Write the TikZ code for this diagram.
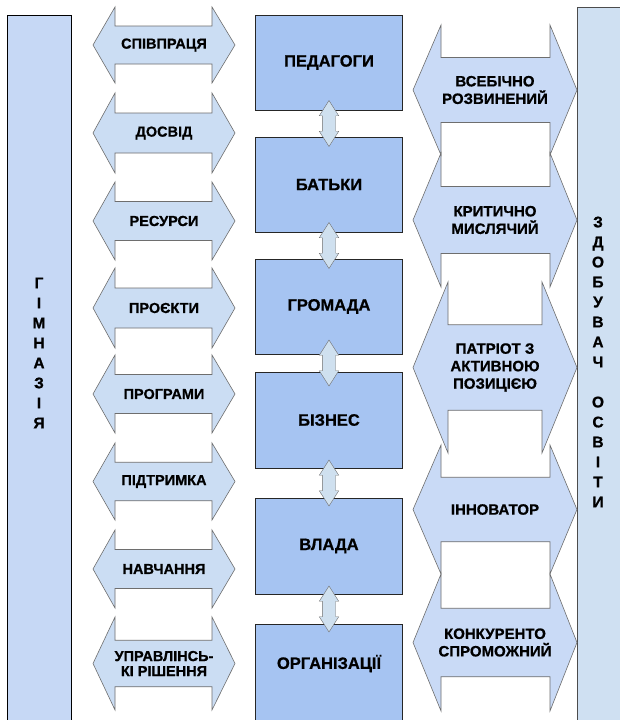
\documentclass[tikz,border=0pt]{standalone}
\usepackage{fontspec}
\setmainfont{Liberation Sans}[BoldFeatures={FakeBold=0.8}]
\usepackage{tikz}
\usetikzlibrary{shapes.arrows, calc}

\definecolor{gymfill}{HTML}{C6D8F5}
\definecolor{learnfill}{HTML}{CFE0F2}
\definecolor{sidefill}{HTML}{CBDDF3}
\definecolor{goalfill}{HTML}{C9DAF6}
\definecolor{partfill}{HTML}{A6C4F2}
\definecolor{linkfill}{HTML}{CFE0EF}
\definecolor{edgegray}{HTML}{6E6E6E}

% two-way arrow with a notch at top and bottom
\newcommand{\hexarrow}[7]{%
  \pgfmathsetmacro{\dd}{0.25*(#7-#6)}%
  \pgfmathsetmacro{\mm}{0.5*(#6+#7)}%
  \filldraw[#1] (#3,#6) -- (#3,#6+\dd) -- (#4,#6+\dd) -- (#4,#6) -- (#5,\mm)
    -- (#4,#7) -- (#4,#7-\dd) -- (#3,#7-\dd) -- (#3,#7) -- (#2,\mm) -- cycle;
}

\tikzset{
  sideshape/.style={draw=edgegray, fill=sidefill, line width=0.6pt, line join=miter},
  goalshape/.style={draw=edgegray, fill=goalfill, line width=0.6pt, line join=miter},
  sidetext/.style={font=\fontsize{14.5}{15}\selectfont\bfseries, align=center, inner sep=0pt},
  goaltext/.style={font=\fontsize{15}{17.5}\selectfont\bfseries, align=center, inner sep=0pt},
  partner/.style={draw=black!85, fill=partfill, minimum width=147pt, inner sep=0pt,
    font=\fontsize{16.5}{18}\selectfont\bfseries},
  linkarrow/.style={double arrow, draw=edgegray, fill=linkfill, rotate=90, minimum height=46pt,
    inner xsep=0pt, inner ysep=6.5pt, double arrow head extend=3pt, double arrow tip angle=65},
  sidetitle/.style={font=\fontsize{15.5}{20}\selectfont\bfseries, align=center, inner sep=0pt}
}

\begin{document}
\begin{tikzpicture}[x=1pt, y=-1pt]
\useasboundingbox (0,0) rectangle (620,720);
\clip (0,0) rectangle (620,720);
\fill[white] (0,0) rectangle (620,720);

\filldraw[draw=black, fill=gymfill, line width=0.6pt] (7,15) rectangle (71,740);
\node[sidetitle] (gymtitle) at (39,353) {Г\\І\\М\\Н\\А\\З\\І\\Я};

\filldraw[draw=black!70, fill=learnfill, line width=0.6pt] (577,7) rectangle (650,740);
\node[sidetitle] (learntitle) at (598,362) {З\\Д\\О\\Б\\У\\В\\А\\Ч\\[20pt]О\\С\\В\\І\\Т\\И};

\foreach \t/\b/\txt [count=\i] in {7/83/СПІВПРАЦЯ, 93/173/ДОСВІД, 182/260/РЕСУРСИ,
  268/348/ПРОЄКТИ, 355/433/ПРОГРАМИ, 443/520/ПІДТРИМКА, 530/608/НАВЧАННЯ,
  617/710/{УПРАВЛІНСЬ-\\КІ РІШЕННЯ}}
{
  \hexarrow{sideshape}{93}{115}{212}{235}{\t}{\b}
  \node[sidetext] (side\i) at (164,\mm) {\txt};
}

\foreach \t/\b/\nl/\nr/\txt [count=\i] in {25/155/441/550/{ВСЕБІЧНО\\РОЗВИНЕНИЙ},
  153/287/441/550/{КРИТИЧНО\\МИСЛЯЧИЙ}, 282/453/448/542/{ПАТРІОТ З\\АКТИВНОЮ\\ПОЗИЦІЄЮ},
  445/574/441/550/ІННОВАТОР, 574/711/441/550/{КОНКУРЕНТО\\СПРОМОЖНИЙ}}
{
  \hexarrow{goalshape}{413}{\nl}{\nr}{577}{\t}{\b}
  \node[goaltext] (goal\i) at (495,\mm) {\txt};
}

\foreach \nm/\y/\h/\txt in {ped/62.5/95/ПЕДАГОГИ, bat/184.5/95/БАТЬКИ, grom/306.5/95/ГРОМАДА,
  biz/420/96/БІЗНЕС, vlada/546/96/ВЛАДА}
  \node[partner, minimum height=\h pt] (\nm) at (329,\y) {\txt};
\node[partner, minimum height=96pt, text height=12pt, text depth=18.2pt] (org) at (329,672) {ОРГАНІЗАЦІЇ};

\foreach \a/\b in {ped/bat, bat/grom, grom/biz, biz/vlada, vlada/org}
  \node[linkarrow] (\a-\b) at ($(\a.south)!0.5!(\b.north)$) {};
\end{tikzpicture}
\end{document}
